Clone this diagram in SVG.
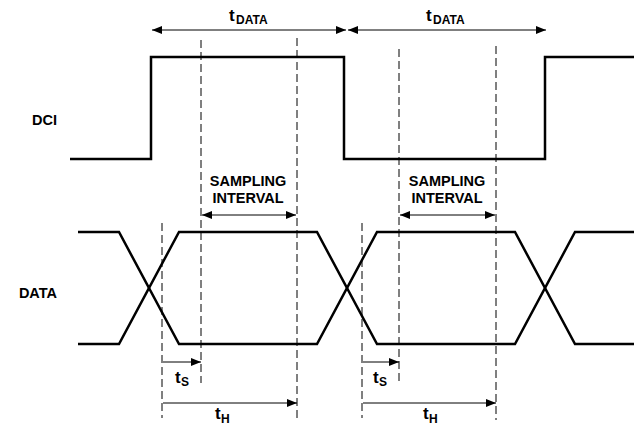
<svg xmlns="http://www.w3.org/2000/svg" width="634" height="426" viewBox="0 0 634 426">
<style>
.wave{fill:none;stroke:#000;stroke-width:2.5;stroke-linejoin:miter}
.dash{fill:none;stroke:#000;stroke-width:1;stroke-dasharray:8,4}
.arr{fill:none;stroke:#000;stroke-width:1}
text{font-family:"Liberation Sans",Arial,sans-serif;font-weight:bold;fill:#000}
.lbl{font-size:14.5px}
.t{font-size:17px}
.sub{font-size:12px}
</style>
<defs>
<marker id="ah" viewBox="0 0 10 8" refX="10" refY="4" markerWidth="10" markerHeight="8" markerUnits="userSpaceOnUse" orient="auto-start-reverse">
<path d="M0,0 L10,4 L0,8 Z" fill="#000"/>
</marker>
</defs>
<rect width="634" height="426" fill="#fff"/>
<g id="dci">
<path class="wave" d="M70,159 H151 V57 H344 V159 H545 V57 H634"/>
<text class="lbl" x="57" y="125" text-anchor="end">DCI</text>
</g>
<g id="data">
<path class="wave" d="M78,232 H119 L179,344 H317 L377,232 H515 L575,344 H634"/>
<path class="wave" d="M78,344 H119 L179,232 H317 L377,344 H515 L575,232 H634"/>
<text class="lbl" x="57" y="298" text-anchor="end">DATA</text>
</g>
<g id="sampling1">
<text class="lbl" x="248" y="186" text-anchor="middle">SAMPLING</text>
<text class="lbl" x="248" y="203" text-anchor="middle">INTERVAL</text>
</g>
<g id="sampling2">
<text class="lbl" x="447" y="186" text-anchor="middle">SAMPLING</text>
<text class="lbl" x="447" y="203" text-anchor="middle">INTERVAL</text>
</g>
<g id="labels">
<text class="t" x="229" y="21">t</text><text class="sub" x="236" y="24">DATA</text>
<text class="t" x="426" y="21">t</text><text class="sub" x="433" y="24">DATA</text>
<text class="t" x="175" y="383">t</text><text class="sub" x="181" y="386">S</text>
<text class="t" x="373" y="383">t</text><text class="sub" x="379" y="386">S</text>
<text class="t" x="215" y="419">t</text><text class="sub" x="221" y="423">H</text>
<text class="t" x="423" y="419">t</text><text class="sub" x="429" y="423">H</text>
</g>
<g id="connectors">
<line class="dash" x1="201" y1="40" x2="201" y2="383"/>
<line class="dash" x1="297" y1="38" x2="297" y2="418"/>
<line class="dash" x1="399" y1="49" x2="399" y2="381"/>
<line class="dash" x1="496" y1="46" x2="496" y2="420"/>
<line class="dash" x1="162" y1="223" x2="162" y2="418"/>
<line class="dash" x1="362" y1="223" x2="362" y2="418"/>
<line class="arr" x1="152" y1="30" x2="346" y2="30" marker-start="url(#ah)" marker-end="url(#ah)"/>
<line class="arr" x1="348" y1="30" x2="546" y2="30" marker-start="url(#ah)" marker-end="url(#ah)"/>
<line class="arr" x1="202" y1="215" x2="296" y2="215" marker-start="url(#ah)" marker-end="url(#ah)"/>
<line class="arr" x1="400" y1="215" x2="495" y2="215" marker-start="url(#ah)" marker-end="url(#ah)"/>
<line class="arr" x1="163" y1="362" x2="201" y2="362" marker-end="url(#ah)"/>
<line class="arr" x1="363" y1="362" x2="399" y2="362" marker-end="url(#ah)"/>
<line class="arr" x1="163" y1="403" x2="297" y2="403" marker-end="url(#ah)"/>
<line class="arr" x1="363" y1="403" x2="496" y2="403" marker-end="url(#ah)"/>
</g>
</svg>
